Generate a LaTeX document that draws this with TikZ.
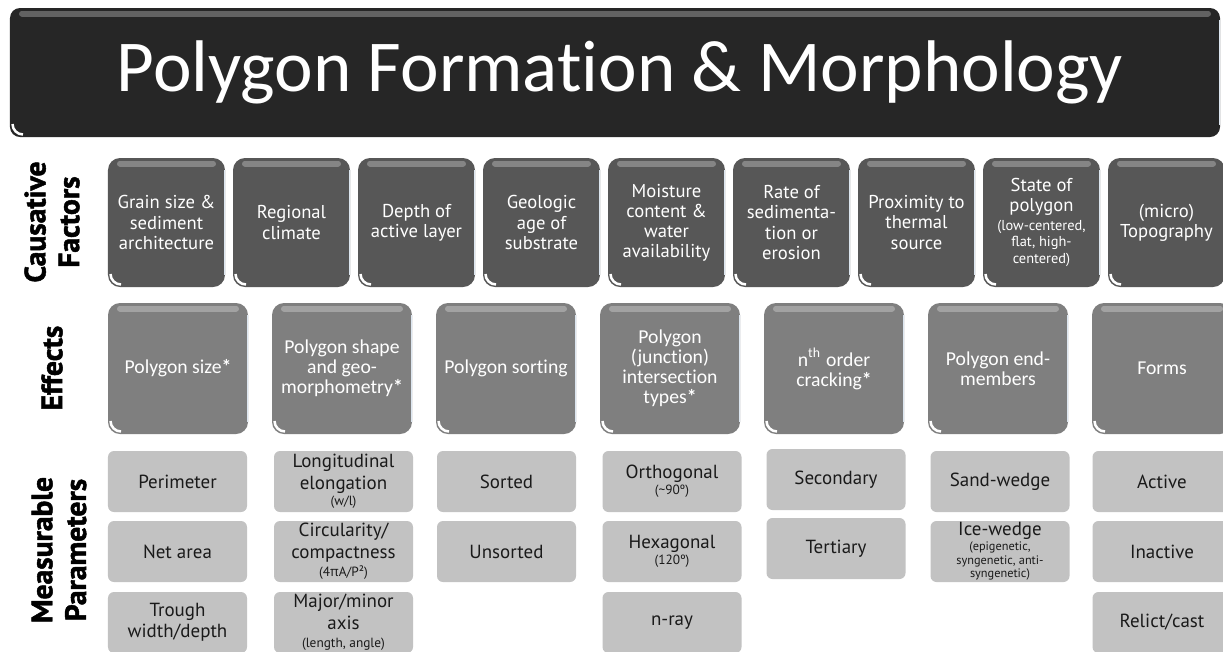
\documentclass[tikz,border=0pt]{standalone}
\usepackage{fontspec}
\setmainfont{PT Sans}
\newfontfamily\calfont{Carlito}[Ligatures=NoCommon]
\newfontfamily\labelfont{PT Sans}[BoldFeatures={FakeBold=1.6}]
\newfontfamily\greekfont{Open Sans}
\usepackage{xcolor}
\definecolor{title-black}{HTML}{262626}
\definecolor{cause-gray}{HTML}{575757}
\definecolor{effect-gray}{HTML}{7F7F7F}
\definecolor{param-gray}{HTML}{C2C2C2}
\definecolor{ink}{HTML}{1A1A1A}
\definecolor{gloss}{HTML}{DCE6F0}

\newcommand{\bodysize}{\fontsize{5.3}{5.7}\selectfont}
\newcommand{\effectsize}{\calfont\fontsize{5.6}{5.7}\selectfont}
\newcommand{\paramsize}{\fontsize{5.4}{6.1}\selectfont}
\newcommand{\smallsize}{\fontsize{3.8}{4.2}\selectfont}
\newcommand{\tinysize}{\fontsize{3.5}{3.9}\selectfont}
\newcommand{\causesmall}{\fontsize{4.1}{4.5}\selectfont}
\newcommand{\labelsize}{\labelfont\fontsize{8.4}{9.6}\selectfont\bfseries}

\tikzset{
  gloss box/.style={rounded corners=0.12cm, inner sep=0pt, align=center,
    path picture={
      \draw[white, line width=0.025cm]
        ([shift={(0.025,0.13)}]path picture bounding box.south west)
        arc[start angle=180, end angle=270, radius=0.105];
      \draw[white, opacity=0.28, line width=0.06cm, line cap=round]
        ([shift={(0.12,-0.055)}]path picture bounding box.north west) --
        ([shift={(-0.12,-0.055)}]path picture bounding box.north east);
      \draw[gloss, line width=0.03cm]
        ([yshift=-0.12cm]path picture bounding box.north east) --
        ([yshift=0.12cm]path picture bounding box.south east);
    }},
  titlebar/.style={gloss box, rounded corners=0.1cm, fill=title-black, text=white,
    minimum width=12.10cm, minimum height=1.29cm, font=\calfont\fontsize{20.8}{24}\selectfont},
  cause/.style={gloss box, fill=cause-gray, text=white,
    minimum width=1.17cm, minimum height=1.29cm, font=\bodysize},
  effect/.style={gloss box, fill=effect-gray, text=white,
    minimum width=1.40cm, minimum height=1.31cm, font=\effectsize},
  param/.style={rounded corners=0.06cm, fill=param-gray, text=ink, inner sep=0pt,
    align=center, minimum width=1.39cm, minimum height=0.61cm, font=\paramsize},
  rowlabel/.style={rotate=90, align=center, font=\labelsize, text=black}
}

\begin{document}
\begin{tikzpicture}
  \useasboundingbox[fill=white] (0,0) rectangle (12.23,6.51);

  % title
  \node[titlebar] (title) at (6.15,5.785) {\hspace*{0.1cm}Polygon Formation \& Morphology};

  % row labels
  \node[rowlabel] (lab-cause) at (0.52,4.29) {Causative\\Factors};
  \node[rowlabel] (lab-effect) at (0.52,2.83) {Effects};
  \node[rowlabel] (lab-param) at (0.59,1.01) {Measurable\\Parameters};

  % causative factors
  \node[cause] (c1) at (1.665,4.285) {Grain size \&\\sediment\\architecture};
  \node[cause] (c2) at (2.915,4.285) {Regional\\climate};
  \node[cause] (c3) at (4.165,4.285) {Depth of\\active layer};
  \node[cause] (c4) at (5.415,4.285) {Geologic\\age of\\substrate};
  \node[cause] (c5) at (6.665,4.285) {Moisture\\content \&\\water\\availability};
  \node[cause] (c6) at (7.915,4.285) {Rate of\\sedimenta-\\tion or\\erosion};
  \node[cause] (c7) at (9.165,4.285) {Proximity to\\thermal\\source};
  \node[cause] (c8) at (10.415,4.285) {State of\\polygon\\[-0.4pt]{\causesmall (low-centered,}\\[-1pt]{\causesmall flat, high-}\\[-1pt]{\causesmall centered)}};
  \node[cause] (c9) at (11.665,4.285) {(micro)\\Topography};

  % effects
  \node[effect] (e1) at (1.78,2.825) {Polygon size{\bfseries *}};
  \node[effect] (e2) at (3.42,2.825) {Polygon shape\\and geo-\\morphometry{\bfseries *}};
  \node[effect] (e3) at (5.06,2.825) {Polygon sorting};
  \node[effect] (e4) at (6.70,2.825) {Polygon\\(junction)\\intersection\\types{\bfseries *}};
  \node[effect] (e5) at (8.34,2.825) {n\textsuperscript{th} order\\cracking{\bfseries *}};
  \node[effect] (e6) at (9.98,2.825) {Polygon end-\\members};
  \node[effect] (e7) at (11.62,2.825) {Forms};

  % measurable parameters
  \node[param] (p11) at (1.775,1.695) {Perimeter};
  \node[param] (p12) at (1.775,0.995) {Net area};
  \node[param] (p13) at (1.775,0.285) {Trough\\width/depth};
  \node[param] (p21) at (3.435,1.695) {Longitudinal\\elongation\\[-1.3pt]{\smallsize (w/l)}};
  \node[param] (p22) at (3.435,0.995) {Circularity/\\compactness\\[-0.9pt]{\smallsize (4{\greekfont π}A/P²)}};
  \node[param] (p23) at (3.435,0.285) {Major/minor\\axis\\[-0.9pt]{\smallsize (length, angle)}};
  \node[param] (p31) at (5.065,1.695) {Sorted};
  \node[param] (p32) at (5.065,0.995) {Unsorted};
  \node[param] (p41) at (6.72,1.695) {Orthogonal\\[-1.6pt]{\smallsize (\textasciitilde 90º)}};
  \node[param] (p42) at (6.72,0.995) {Hexagonal\\[-1.6pt]{\smallsize (120º)}};
  \node[param] (p43) at (6.72,0.285) {n-ray};
  \node[param] (p51) at (8.36,1.715) {Secondary};
  \node[param] (p52) at (8.36,1.025) {Tertiary};
  \node[param] (p61) at (10.0,1.695) {Sand-wedge};
  \node[param] (p62) at (10.0,0.995) {Ice-wedge\\[-2pt]{\tinysize (epigenetic,}\\[-2.2pt]{\tinysize syngenetic, anti-}\\[-2.2pt]{\tinysize syngenetic)}};
  \node[param] (p71) at (11.62,1.695) {Active};
  \node[param] (p72) at (11.62,0.995) {Inactive};
  \node[param] (p73) at (11.62,0.285) {Relict/cast};
\end{tikzpicture}
\end{document}
